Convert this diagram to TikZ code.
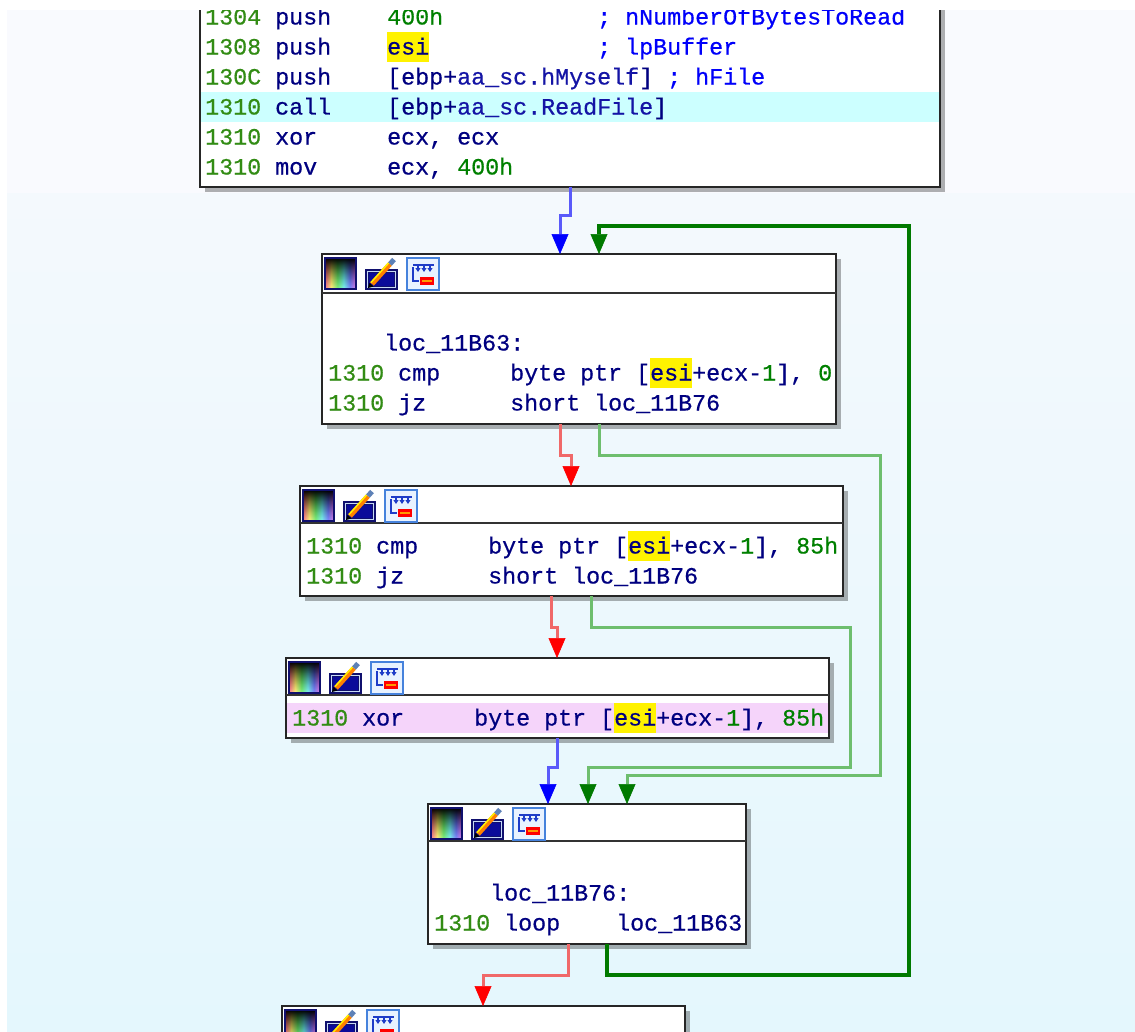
\documentclass[tikz,border=0pt]{standalone}
\usepackage{fontspec}
\usetikzlibrary{arrows.meta,shadows,fadings}
\newfontfamily\asmfont{Liberation Mono}[FakeBold=0.6]
\definecolor{addrc}{RGB}{50,140,20}
\definecolor{numc}{RGB}{0,128,0}
\definecolor{cmtc}{RGB}{0,0,250}
\definecolor{insc}{RGB}{0,0,128}
\definecolor{membc}{RGB}{20,20,165}
\definecolor{callbg}{RGB}{204,255,255}
\definecolor{xorbg}{RGB}{245,212,250}
\definecolor{dkgreen}{RGB}{0,122,0}
\definecolor{ltgreen}{RGB}{110,190,110}
\definecolor{ltred}{RGB}{240,105,105}
\definecolor{ltblue}{RGB}{90,90,250}
\definecolor{icnavy}{RGB}{16,16,110}
\definecolor{icblue}{RGB}{70,130,220}
\definecolor{icpale}{RGB}{232,242,255}
\definecolor{icdark}{RGB}{30,60,200}
\definecolor{bgtop}{RGB}{249,250,254}
\definecolor{bgmid}{RGB}{244,249,253}
\definecolor{bgbot}{RGB}{228,247,253}
\pgfdeclarehorizontalshading{rainbow}{100bp}{rgb(0bp)=(1,0,0.2); rgb(25bp)=(1,0,0.2); rgb(35bp)=(1,0.9,0); rgb(45bp)=(0,0.9,0); rgb(55bp)=(0,0.9,0.9); rgb(65bp)=(0,0.1,1); rgb(75bp)=(0.8,0,0.8); rgb(100bp)=(0.8,0,0.8)}
\newcommand\addr[1]{\textcolor{addrc}{#1}}
\newcommand\numb[1]{\textcolor{numc}{#1}}
\newcommand\cmnt[1]{\textcolor{cmtc}{#1}}
\newcommand\memb[1]{\textcolor{membc}{#1}}
\newcommand\hili[1]{{\setlength\fboxsep{0pt}\colorbox{yellow}{\rule[-7.5pt]{0pt}{30pt}#1}}}

\begin{document}
\begin{tikzpicture}[x=1pt,y=-1pt,
  blk/.style={draw=black!85, line width=2pt, fill=white, anchor=north west, inner sep=0pt, outer sep=0pt,
    drop shadow={shadow xshift=5pt, shadow yshift=-5pt, opacity=.3, fill=black}},
  sepline/.style={line width=2pt, draw=black!80},
  asm/.style={anchor=base west, inner sep=0pt, text=insc, font=\asmfont\fontsize{23.33pt}{30pt}\selectfont},
  tip/.style={-{Triangle[width=17pt,length=20pt,line width=.5pt,color=#1]}},
  seq/.style={draw=ltblue, line width=3pt, tip=blue},
  fls/.style={draw=ltred, line width=3pt, tip=red},
  tru/.style={draw=dkgreen, line width=3.5pt, tip=dkgreen},
  truL/.style={draw=ltgreen, line width=3pt, tip=dkgreen},
  icons/.pic={
    \shade[shading=rainbow] (3,4) rectangle (34,35);
    \fill[black,path fading=south] (3,4) rectangle (34,35);
    \fill[white,opacity=.5,path fading=north] (3,4) rectangle (34,35);
    \draw[icnavy,line width=2pt] (3,4) rectangle (34,35);
    \fill[icnavy] (43,15) rectangle (76,36);
    \draw[white!70!icblue,line width=1.2pt] (45.5,17.5) rectangle (73.5,33.5);
    \fill[icnavy!70!blue] (47,19) rectangle (72,32);
    \draw[line width=5pt,orange] (50,30) -- (68,10);
    \draw[line width=1.5pt,yellow] (49,28.5) -- (67,8.5);
    \draw[line width=5pt,icblue!60!gray] (68,10) -- (72,5.5);
    \fill[black] (46,34) -- (47.5,29) -- (51.5,32.5) -- cycle;
    \fill[icpale] (85,4) rectangle (117,36);
    \draw[icblue,line width=2pt] (85,4) rectangle (117,36);
    \draw[icdark,line width=1.5pt] (91,11) -- (112,11);
    \foreach \k in {96,102,108}
      \draw[icdark,line width=1.2pt,-{Triangle[width=5pt,length=4pt]}] (\k,11) -- (\k,18);
    \draw[icdark,line width=1.5pt] (91,13) -- (91,27) -- (97,27);
    \fill[red] (98,23) rectangle (112,31);
    \fill[orange!80!yellow] (100,25.5) rectangle (110,28);
  }]
\useasboundingbox (0,0) rectangle (1135,1031);
\begin{scope}
\clip (7,10) rectangle (1135,1031);
\fill[bgtop] (7,10) rectangle (1135,193);
\shade[top color=bgmid, bottom color=bgbot] (7,193) rectangle (1135,1031);

\node[blk, minimum width=740pt, minimum height=217pt] (b1) at (200,-30) {};
\fill[callbg] (201,92) rectangle (939,122);
\node[asm] (b1a) at (205,24.5) {\addr{1304} push};
\node[asm] (b1ao) at (387,24.5) {\numb{400h}};
\node[asm] (b1ac) at (597,24.5) {\cmnt{; nNumberOfBytesToRead}};
\node[asm] (b1b) at (205,54.5) {\addr{1308} push};
\node[asm] (b1bo) at (387,54.5) {\hili{esi}};
\node[asm] (b1bc) at (597,54.5) {\cmnt{; lpBuffer}};
\node[asm] (b1c) at (205,84.5) {\addr{130C} push};
\node[asm] (b1co) at (387,84.5) {[ebp+\memb{aa\_sc.hMyself}] \cmnt{; hFile}};
\node[asm] (b1d) at (205,114.5) {\addr{1310} call};
\node[asm] (b1do) at (387,114.5) {[ebp+\memb{aa\_sc.ReadFile}]};
\node[asm] (b1e) at (205,144.5) {\addr{1310} xor};
\node[asm] (b1eo) at (387,144.5) {ecx, ecx};
\node[asm] (b1f) at (205,174.5) {\addr{1310} mov};
\node[asm] (b1fo) at (387,174.5) {ecx, \numb{400h}};

\node[blk, minimum width=514pt, minimum height=170pt] (b2) at (322,254) {};
\draw[sepline] (322,293) -- (836,293);
\pic at (b2.north west) {icons};
\node[asm] (b2lab) at (384,350.5) {loc\_11B63:};
\node[asm] (b2a) at (328,380.5) {\addr{1310} cmp};
\node[asm] (b2ao) at (510,380.5) {byte ptr [\hili{esi}+ecx-\numb{1}], \numb{0}};
\node[asm] (b2b) at (328,410.5) {\addr{1310} jz};
\node[asm] (b2bo) at (510,410.5) {short loc\_11B76};

\node[blk, minimum width=543pt, minimum height=110pt] (b3) at (300,486) {};
\draw[sepline] (300,523) -- (843,523);
\pic at (b3.north west) {icons};
\node[asm] (b3a) at (306,553.5) {\addr{1310} cmp};
\node[asm] (b3ao) at (488,553.5) {byte ptr [\hili{esi}+ecx-\numb{1}], \numb{85h}};
\node[asm] (b3b) at (306,583.5) {\addr{1310} jz};
\node[asm] (b3bo) at (488,583.5) {short loc\_11B76};

\node[blk, minimum width=543pt, minimum height=80pt] (b4) at (286,658) {};
\draw[sepline] (286,695) -- (829,695);
\fill[xorbg] (287,703) rectangle (828,733);
\pic at (b4.north west) {icons};
\node[asm] (b4a) at (292,725.5) {\addr{1310} xor};
\node[asm] (b4ao) at (474,725.5) {byte ptr [\hili{esi}+ecx-\numb{1}], \numb{85h}};

\node[blk, minimum width=318pt, minimum height=140pt] (b5) at (428,804) {};
\draw[sepline] (428,841) -- (746,841);
\pic at (b5.north west) {icons};
\node[asm] (b5lab) at (490,900.5) {loc\_11B76:};
\node[asm] (b5a) at (434,930.5) {\addr{1310} loop};
\node[asm] (b5ao) at (616,930.5) {loc\_11B63};

\node[blk, minimum width=403pt, minimum height=100pt] (b6) at (282,1006) {};
\pic at (b6.north west) {icons};

\draw[seq] (b1.south -| 570,0) -- (570,215) -- (560,215) -- (b2.north -| 560,0);
\draw[tru] (b5.south -| 607,0) -- (607,975) -- (909,975) -- (909,226) -- (599,226) -- (b2.north -| 599,0);
\draw[fls] (b2.south -| 560,0) -- (560,455) -- (571,455) -- (b3.north -| 571,0);
\draw[truL] (b2.south -| 599,0) -- (599,455) -- (880,455) -- (880,775) -- (627,775) -- (b5.north -| 627,0);
\draw[fls] (b3.south -| 551,0) -- (551,627) -- (557,627) -- (b4.north -| 557,0);
\draw[truL] (b3.south -| 591,0) -- (591,627) -- (850,627) -- (850,767) -- (588,767) -- (b5.north -| 588,0);
\draw[seq] (b4.south -| 557,0) -- (557,767) -- (548,767) -- (b5.north -| 548,0);
\draw[fls] (b5.south -| 568,0) -- (568,975) -- (483,975) -- (b6.north -| 483,0);
\end{scope}
\end{tikzpicture}
\end{document}
